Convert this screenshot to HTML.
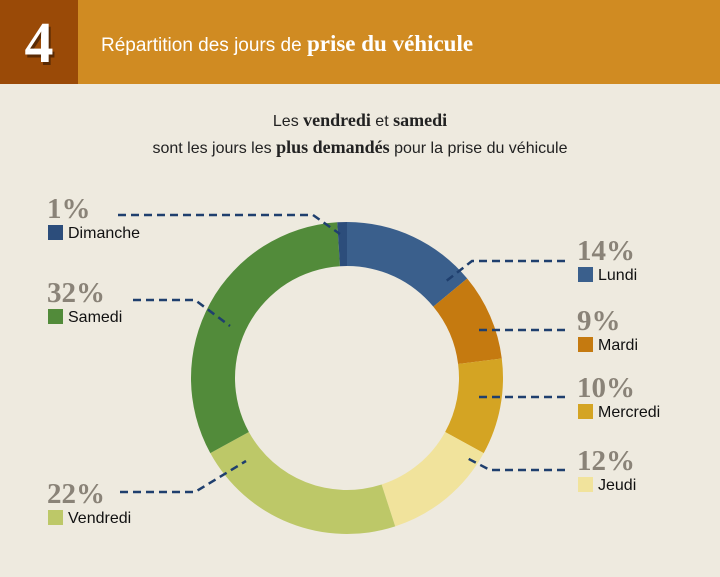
<!DOCTYPE html>
<html><head><meta charset="utf-8"><style>
body{margin:0;width:720px;height:572px;background:#eeeadf;overflow:hidden;font-family:"Liberation Sans",sans-serif}
</style></head><body>
<svg width="720" height="572">
<rect x="0" y="0" width="720" height="84" fill="#d08b22"/>
<rect x="0" y="0" width="78" height="84" fill="#9a4a07"/>
<text x="41" y="65" text-anchor="middle" font-family="Liberation Serif,serif" font-weight="bold" font-size="58" fill="#5a2a04">4</text>
<text x="39" y="62" text-anchor="middle" font-family="Liberation Serif,serif" font-weight="bold" font-size="58" fill="#fff">4</text>
<text x="101" y="51" font-size="19" fill="#fff">Répartition des jours de <tspan font-family="Liberation Serif,serif" font-weight="bold" font-size="23">prise du véhicule</tspan></text>
<text x="360" y="126" text-anchor="middle" font-size="16" fill="#222">Les <tspan font-family="Liberation Serif,serif" font-weight="bold" font-size="18">vendredi</tspan> et <tspan font-family="Liberation Serif,serif" font-weight="bold" font-size="18">samedi</tspan></text>
<text x="360" y="153" text-anchor="middle" font-size="16" fill="#222">sont les jours les <tspan font-family="Liberation Serif,serif" font-weight="bold" font-size="18">plus demandés</tspan> pour la prise du véhicule</text>
<g id="donut"></g>
<g id="labels"></g>
</svg>
<script>
const categories=["Lundi","Mardi","Mercredi","Jeudi","Vendredi","Samedi","Dimanche"];
const values=[14,9,10,12,22,32,1];
const colors=["#3a5f8c","#c57a10","#d4a423","#f1e39c","#bdc868","#528b3a","#2c4d7b"];
const cx=347,cy=378,R=156,r=112;
const ns="http://www.w3.org/2000/svg";
const total=values.reduce((a,b)=>a+b,0);
const g=document.getElementById('donut');
function pt(a,rad){return [cx+rad*Math.sin(a),cy-rad*Math.cos(a)];}
let acc=0;
values.forEach((v,i)=>{
 const a0=acc/total*2*Math.PI,a1=(acc+v)/total*2*Math.PI;acc+=v;
 const l=(a1-a0)>Math.PI?1:0;
 const [x0,y0]=pt(a0,R),[x1,y1]=pt(a1,R),[x2,y2]=pt(a1,r),[x3,y3]=pt(a0,r);
 const p=document.createElementNS(ns,'path');
 p.setAttribute('d',`M${x0},${y0}A${R},${R} 0 ${l} 1 ${x1},${y1}L${x2},${y2}A${r},${r} 0 ${l} 0 ${x3},${y3}Z`);
 p.setAttribute('fill',colors[i]);
 
 
 g.appendChild(p);
});
// label layout: [x, pctBaseline, leader points]
const layout=[
 [577,260,"565,261 472,261 445,282"],
 [577,330,"565,330 478,330"],
 [577,397,"565,397 478,397"],
 [577,470,"565,470 490,470 465,457"],
 [47,503,"120,492 195,492 246,461"],
 [47,302,"133,300 195,300 230,326"],
 [47,218,"118,215 313,215 340,234"]
];
const lg=document.getElementById('labels');
categories.forEach((c,i)=>{
 const [x,y,pts]=layout[i];
 const pl=document.createElementNS(ns,'polyline');
 pl.setAttribute('points',pts);pl.setAttribute('fill','none');pl.setAttribute('stroke','#1f3f6e');
 pl.setAttribute('stroke-width','2.5');pl.setAttribute('stroke-dasharray','8 5');
 
 
 lg.appendChild(pl);
 const t=document.createElementNS(ns,'text');
 t.setAttribute('x',x);t.setAttribute('y',y);t.setAttribute('font-family','Liberation Serif,serif');
 t.setAttribute('font-weight','bold');t.setAttribute('font-size','29');t.setAttribute('fill','#8a8378');
 t.textContent=values[i]+'%';
 
 
 lg.appendChild(t);
 const s=document.createElementNS(ns,'rect');
 s.setAttribute('x',x+1);s.setAttribute('y',y+7);s.setAttribute('width',15);s.setAttribute('height',15);
 s.setAttribute('fill',colors[i]);
 
 
 lg.appendChild(s);
 const n=document.createElementNS(ns,'text');
 n.setAttribute('x',x+21);n.setAttribute('y',y+20);n.setAttribute('font-size','16');n.setAttribute('fill','#111');
 n.textContent=c;
 
 
 lg.appendChild(n);
});
</script>
</body></html>
